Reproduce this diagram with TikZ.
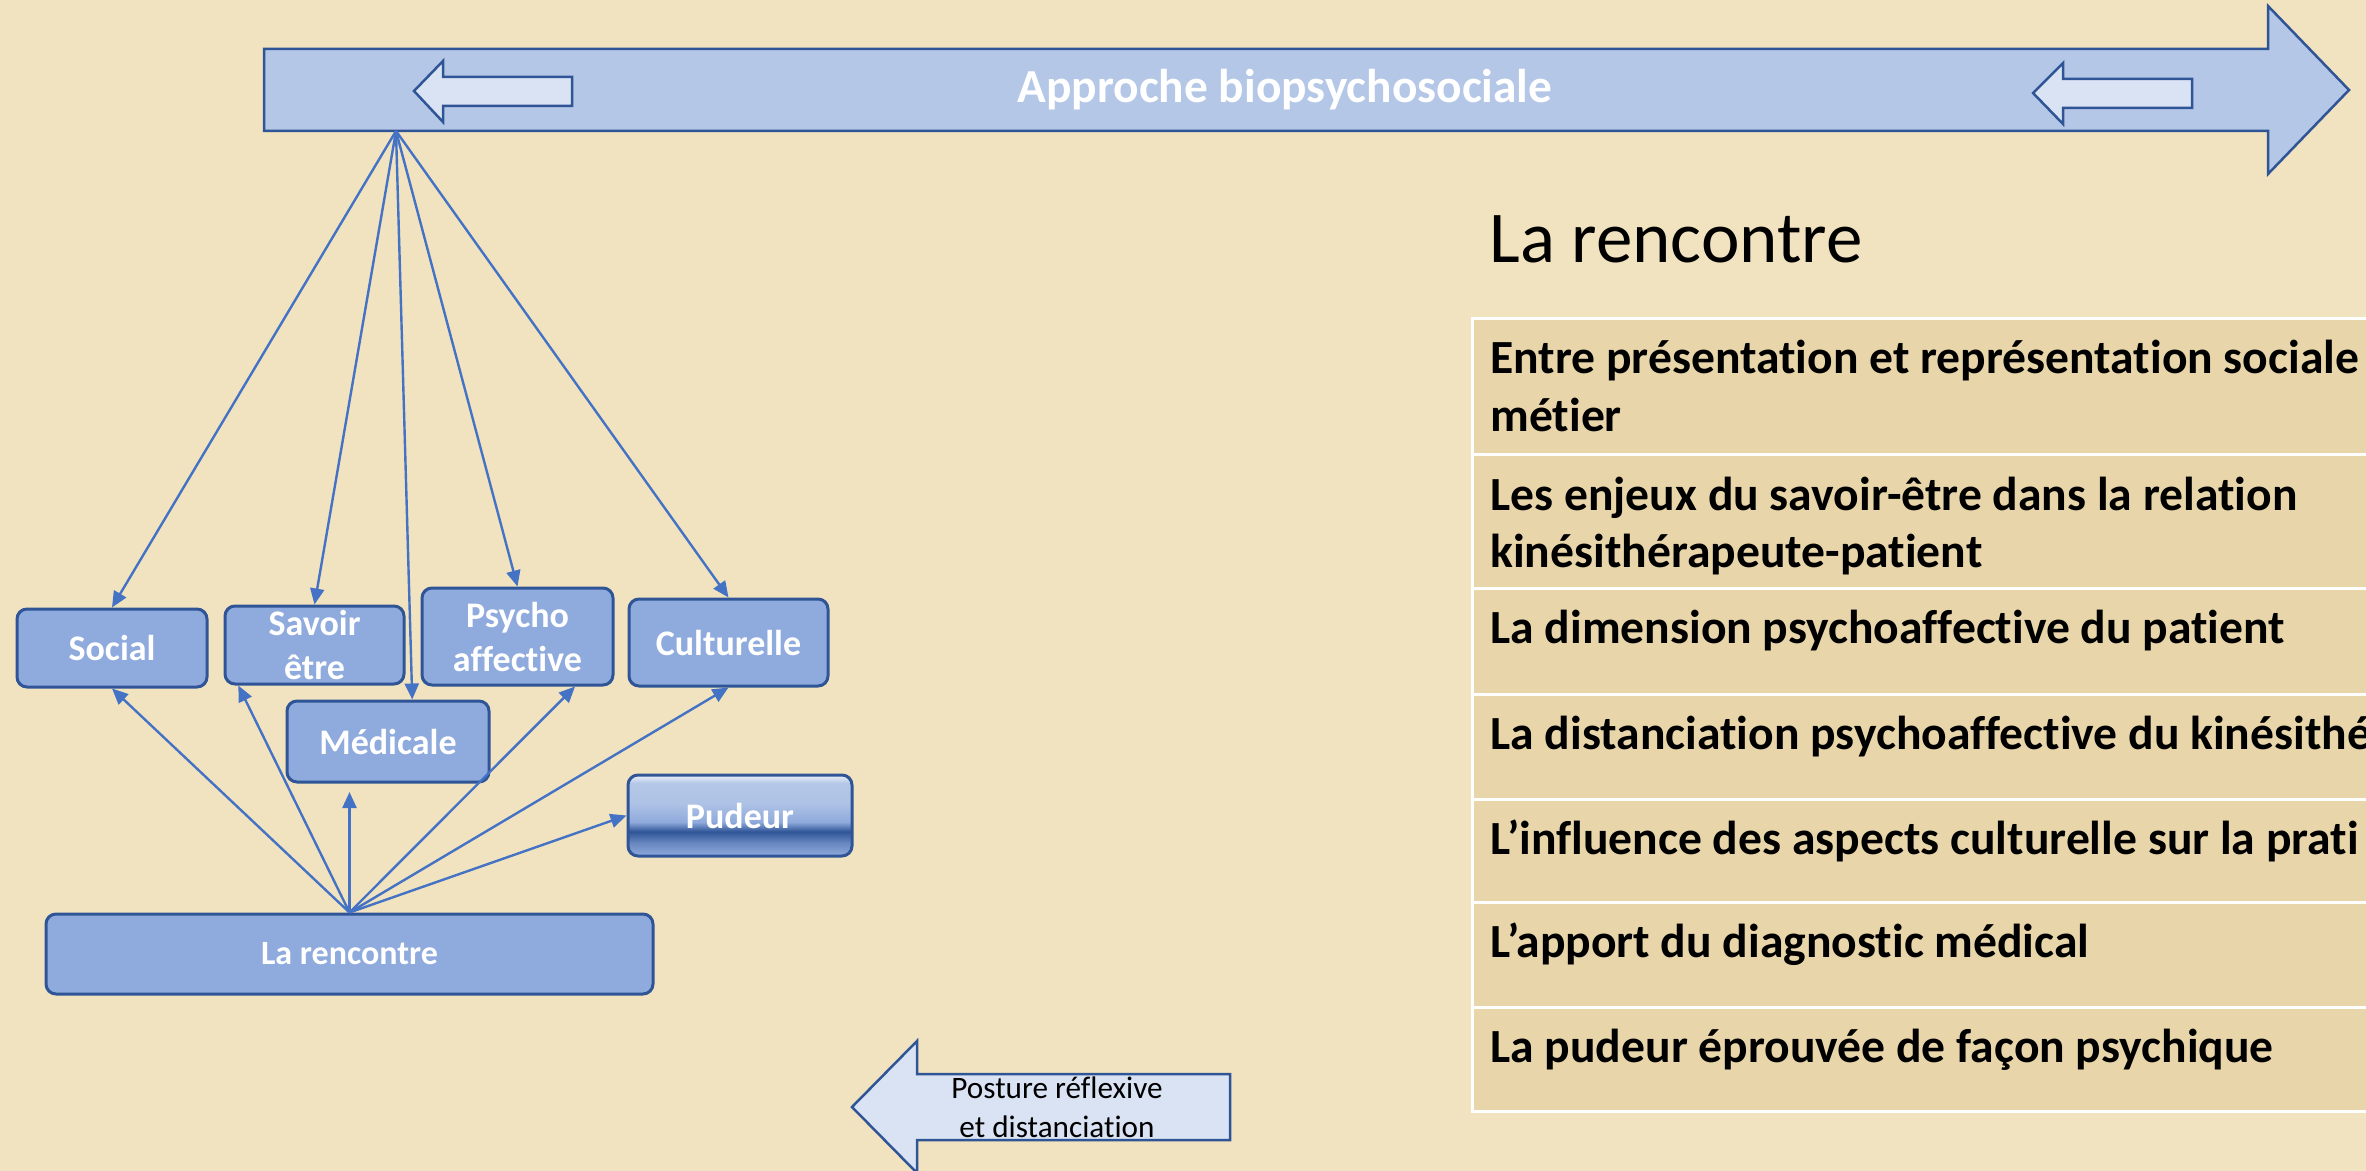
\documentclass[tikz,border=0pt]{standalone}
\usepackage{fontspec}
\setmainfont{Carlito}[Ligatures=NoCommon]
\usetikzlibrary{arrows.meta}

\definecolor{parchemin}{HTML}{F1E3C0}
\definecolor{cellule}{HTML}{E8D6AA}
\definecolor{bordure}{HTML}{2F5597}
\definecolor{boite}{HTML}{8FAADC}
\definecolor{bandeau}{HTML}{B4C7E7}
\definecolor{pale}{HTML}{DAE3F3}
\definecolor{fleche}{HTML}{4472C4}

\pgfdeclareverticalshading{pudeurfond}{100bp}{color(0bp)=(boite); color(25bp)=(boite);
  color(33bp)=(boite!60!bordure); color(40bp)=(bordure); color(46bp)=(boite);
  color(58bp)=(bandeau!85!boite); color(70bp)=(bandeau); color(75bp)=(pale!50!white);
  color(100bp)=(pale!50!white)}

\begin{document}
\begin{tikzpicture}[x=0.5pt, y=-0.5pt,
    bloc/.style={draw=bordure, line width=1.5pt, fill=boite, rounded corners=5pt,
      text=white, font=\fontsize{18}{22}\selectfont\bfseries, align=center, inner sep=0pt},
    lien/.style={draw=fleche, line width=1.2pt, -{Triangle[length=8pt,width=7pt]}},
    contour/.style={draw=bordure, line width=1.25pt},
    ligne/.style={font=\fontsize{23.8}{28.75}\selectfont\bfseries, align=left,
      inner sep=0pt, anchor=base west}]

% Fond
\clip (0,0) rectangle (2366,1171);
\fill[parchemin] (0,0) rectangle (2366,1171);

% Grande flèche en haut
\draw[contour, fill=bandeau] (264,49) -- (2268,49) -- (2268,6) -- (2349,90)
    -- (2268,174) -- (2268,131) -- (264,131) -- cycle;
\draw[contour, fill=pale] (414,91) -- (443,61) -- (443,77) -- (572,77)
    -- (572,106) -- (443,106) -- (443,122) -- cycle;
\draw[contour, fill=pale] (2033,93) -- (2063,63) -- (2063,79) -- (2192,79)
    -- (2192,108) -- (2063,108) -- (2063,124) -- cycle;
\node[text=white, font=\fontsize{23.7}{28}\selectfont\bfseries] (approche) at (1285,90)
    {Approche biopsychosociale};
\coordinate (sommet) at (396,131);

% Les boites
\node[bloc, minimum width=95pt, minimum height=39pt] (social) at (112,648) {Social};
\node[bloc, minimum width=89.5pt, minimum height=39pt] (savoir) at (314.5,645) {Savoir\\être};
\node[bloc, minimum width=95.5pt, minimum height=48.5pt] (psycho) at (517.5,636.5) {Psycho\\affective};
\node[bloc, minimum width=99.5pt, minimum height=43.5pt] (culturelle) at (728.5,642.5) {Culturelle};
\node[bloc, minimum width=101pt, minimum height=40.5pt] (medicale) at (388,741.5) {Médicale};
\node[bloc, shade, shading=pudeurfond, minimum width=112pt, minimum height=40.5pt]
    (pudeur) at (740,815.5) {Pudeur};
\node[bloc, minimum width=303.5pt, minimum height=40pt, font=\fontsize{17}{21}\selectfont\bfseries]
    (rencontre) at (349.5,954) {La rencontre};
\coordinate (medbas) at (349.5,792);

% Flèches depuis l'approche
\foreach \cible in {social.north, savoir.north, medicale.60, psycho.north, culturelle.north}
    \draw[lien] (sommet) -- (\cible);

% Flèches depuis la rencontre
\foreach \cible in {social.south, savoir.208, medbas, psycho.-41, culturelle.south, pudeur.west}
    \draw[lien] (rencontre.north) -- (\cible);

% Posture
\draw[contour, fill=pale] (852,1107) -- (917,1041) -- (917,1074) -- (1230,1074)
    -- (1230,1140) -- (917,1140) -- (917,1173) -- cycle;
\node[font=\fontsize{15.6}{19.5}\selectfont, align=center, inner sep=0pt, anchor=base]
    (posture) at (1057,1137) {Posture réflexive\\et distanciation};

% Titre et tableau
\node[font=\fontsize{36.5}{40}\selectfont, inner sep=0pt, anchor=base west]
    (titre) at (1489,263) {La rencontre};
\foreach \haut/\bas/\nb/\texte [count=\i] in {
    319/455/1/{Entre présentation et représentation sociale\\métier},
    455/588/1/{Les enjeux du savoir-être dans la relation\\kinésithérapeute-patient},
    588/694/0/{La dimension psychoaffective du patient},
    694/799/0/{La distanciation psychoaffective du kinésithé},
    799/902/0/{L’influence des aspects culturelle sur la prati},
    902/1007/0/{L’apport du diagnostic médical},
    1007/1111/0/{La pudeur éprouvée de façon psychique}} {
    \draw[fill=cellule, draw=white, line width=1.5pt] (1472,\haut) rectangle (2420,\bas);
    \node[ligne] (ligne\i) at (1490,\haut+55+57.5*\nb) {\texte};
}
\end{tikzpicture}
\end{document}
